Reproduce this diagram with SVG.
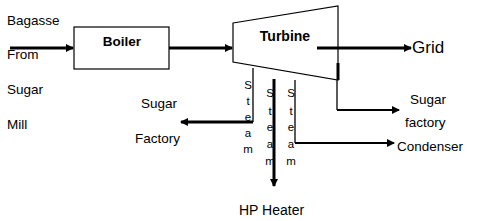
<svg xmlns="http://www.w3.org/2000/svg" width="477" height="221" viewBox="0 0 477 221">
<defs>
<marker id="ah" markerWidth="8" markerHeight="8" refX="7" refY="4" orient="auto" markerUnits="userSpaceOnUse">
<path d="M0,0 L8,4 L0,8 Z" fill="#000"/>
</marker>
<style>
text{font-family:"Liberation Sans",Arial,sans-serif;fill:#000}
.t{font-size:13.5px}
.b{font-size:13px;font-weight:bold}
.s{font-size:11.5px;text-anchor:middle}
.thick{stroke:#000;stroke-width:3;fill:none}
.med{stroke:#000;stroke-width:2;fill:none}
.thin{stroke:#000;stroke-width:1.3;fill:none}
.node{fill:#fff;stroke:#000;stroke-width:1.2}
.open{fill:none;stroke:#000;stroke-width:1.2}
</style>
</defs>
<rect width="477" height="221" fill="#fff"/>
<g id="boiler">
<rect class="node" x="74" y="27" width="95" height="42"/>
<text class="b" x="122" y="46" text-anchor="middle" style="font-size:13.5px">Boiler</text>
</g>
<g id="turbine">
<polygon class="open" points="233,23 338,6 338,80 233,62"/>
<text class="b" x="285" y="41" text-anchor="middle" style="font-size:14px">Turbine</text>
</g>
<g id="connectors">
<line class="thick" x1="10" y1="48" x2="73" y2="48" marker-end="url(#ah)"/>
<line class="thick" x1="169" y1="48" x2="232" y2="48" marker-end="url(#ah)"/>
<line class="thick" x1="317" y1="48" x2="411" y2="48" marker-end="url(#ah)"/>
<line class="thick" x1="338" y1="63" x2="338" y2="80"/>
<polyline class="thin" points="337,80 337,110"/>
<line class="med" x1="337" y1="110" x2="399" y2="110" marker-end="url(#ah)"/>
<line class="thin" x1="253" y1="68" x2="253" y2="122"/>
<line class="thick" x1="253" y1="122" x2="181" y2="122" marker-end="url(#ah)"/>
<line class="thick" x1="274" y1="79" x2="274" y2="186" marker-end="url(#ah)"/>
<line class="thin" x1="295" y1="80" x2="295" y2="143"/>
<line class="med" x1="295" y1="143" x2="394" y2="143" marker-end="url(#ah)"/>
</g>
<g id="source">
<text class="t" x="7" y="25">Bagasse</text>
<text class="t" x="7" y="59">From</text>
<text class="t" x="7" y="94">Sugar</text>
<text class="t" x="7" y="129">Mill</text>
</g>
<g id="grid"><text x="412" y="53" style="font-size:17px">Grid</text></g>
<g id="sugar-factory-right">
<text class="t" x="410" y="104">Sugar</text>
<text class="t" x="405" y="127">factory</text>
</g>
<g id="condenser"><text class="t" x="397" y="151">Condenser</text></g>
<g id="sugar-factory-left">
<text class="t" x="141" y="108">Sugar</text>
<text class="t" x="135" y="143">Factory</text>
</g>
<g id="hp-heater"><text x="239" y="215" style="font-size:14px">HP Heater</text></g>
<g id="steam-labels">
<text class="s" x="248"><tspan x="248" y="89">S</tspan><tspan x="248" y="105">t</tspan><tspan x="248" y="121">e</tspan><tspan x="248" y="137">a</tspan><tspan x="248" y="153">m</tspan></text>
<text class="s" x="270"><tspan x="270" y="97">S</tspan><tspan x="270" y="115">t</tspan><tspan x="270" y="131">e</tspan><tspan x="270" y="148">a</tspan><tspan x="270" y="165">m</tspan></text>
<text class="s" x="291"><tspan x="291" y="97">S</tspan><tspan x="291" y="115">t</tspan><tspan x="291" y="131">e</tspan><tspan x="291" y="148">a</tspan><tspan x="291" y="165">m</tspan></text>
</g>
</svg>
